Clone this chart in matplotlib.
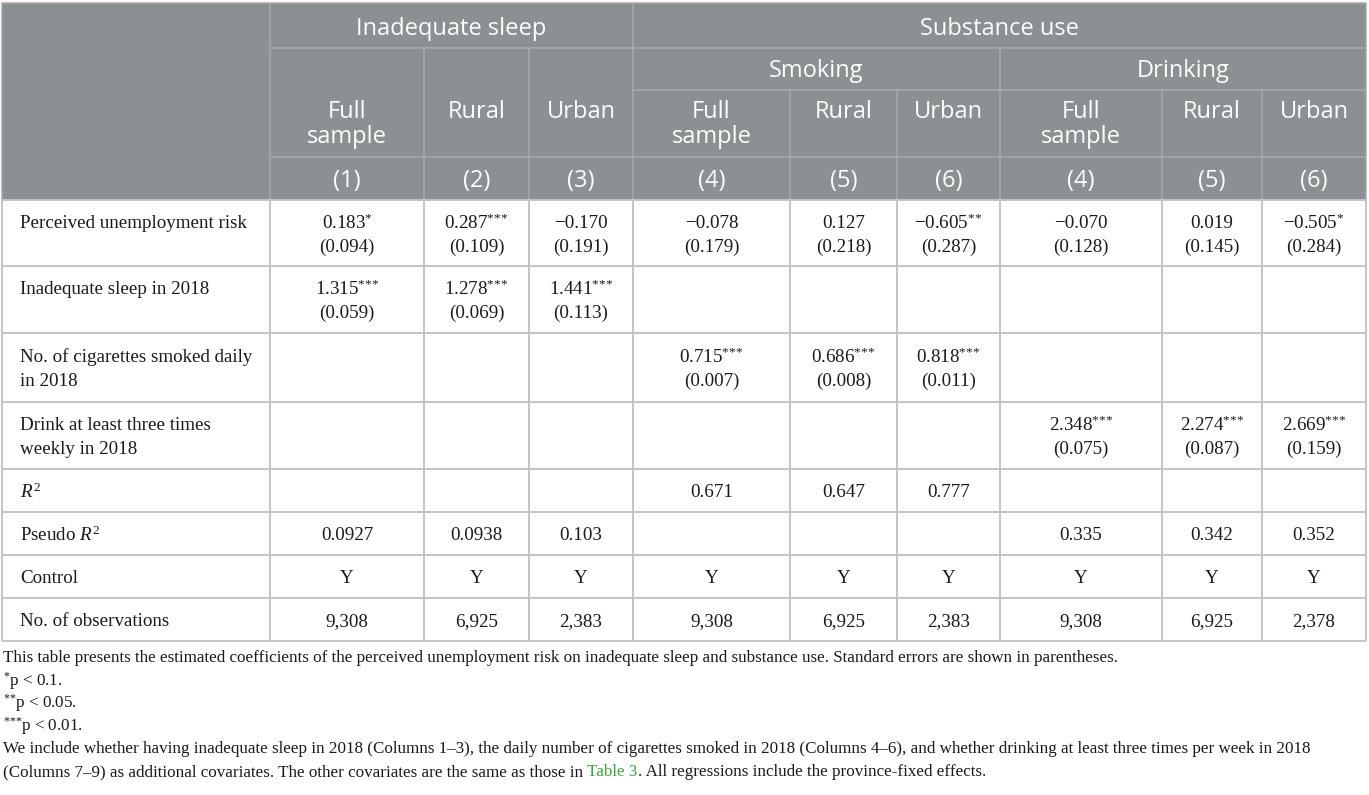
import matplotlib
matplotlib.use('Agg')
import matplotlib.pyplot as plt
from matplotlib.patches import Rectangle

plt.rcParams['mathtext.fontset'] = 'custom'
plt.rcParams['mathtext.rm'] = 'Liberation Serif'
plt.rcParams['mathtext.it'] = 'Liberation Serif:italic'

# ---- table content ----
group_labels = ['Inadequate sleep', 'Substance use']
sub_labels = ['Smoking', 'Drinking']
col_labels = ['Full\nsample', 'Rural', 'Urban'] * 3
col_numbers = ['(1)', '(2)', '(3)', '(4)', '(5)', '(6)', '(4)', '(5)', '(6)']

row_labels = ['Perceived unemployment risk',
              'Inadequate sleep in 2018',
              'No. of cigarettes smoked daily\nin 2018',
              'Drink at least three times\nweekly in 2018',
              '$\\mathit{R}^{2}$',
              'Pseudo $\\mathit{R}^{2}$',
              'Control',
              'No. of observations']

unemp_coef = ['0.183', '0.287', '\u22120.170', '\u22120.078', '0.127', '\u22120.605', '\u22120.070', '0.019', '\u22120.505']
unemp_stars = [1, 3, 0, 0, 0, 2, 0, 0, 1]
unemp_se = ['0.094', '0.109', '0.191', '0.179', '0.218', '0.287', '0.128', '0.145', '0.284']

sleep_coef = ['1.315', '1.278', '1.441']
sleep_se = ['0.059', '0.069', '0.113']
cig_coef = ['0.715', '0.686', '0.818']
cig_se = ['0.007', '0.008', '0.011']
drink_coef = ['2.348', '2.274', '2.669']
drink_se = ['0.075', '0.087', '0.159']

r2 = ['', '', '', '0.671', '0.647', '0.777', '', '', '']
pseudo_r2 = ['0.0927', '0.0938', '0.103', '', '', '', '0.335', '0.342', '0.352']
control = ['Y'] * 9
n_obs = ['9,308', '6,925', '2,383', '9,308', '6,925', '2,383', '9,308', '6,925', '2,378']

notes = ['This table presents the estimated coefficients of the perceived unemployment risk on inadequate sleep and substance use. Standard errors are shown in parentheses.',
         '$^{{*}}$p < 0.1.',
         '$^{{*}{*}}$p < 0.05.',
         '$^{{*}{*}{*}}$p < 0.01.',
         'We include whether having inadequate sleep in 2018 (Columns 1\u20133), the daily number of cigarettes smoked in 2018 (Columns 4\u20136), and whether drinking at least three times per week in 2018']
last_note = ['(Columns 7\u20139) as additional covariates. The other covariates are the same as those in ',
             'Table 3', '. All regressions include the province-fixed effects.']


def star(n):
    if n == 0:
        return ''
    return '$^{' + '{*}' * n + '}$'


def coef_row(coefs, stars, ses):
    return [(c + star(s), '(' + e + ')') for c, s, e in zip(coefs, stars, ses)]


empty3 = [None] * 3
cells = [
    coef_row(unemp_coef, unemp_stars, unemp_se),
    coef_row(sleep_coef, [3] * 3, sleep_se) + [None] * 6,
    empty3 + coef_row(cig_coef, [3] * 3, cig_se) + empty3,
    [None] * 6 + coef_row(drink_coef, [3] * 3, drink_se),
    r2, pseudo_r2, control, n_obs,
]

# ---- layout ----
xs = [2, 270, 424, 529, 633, 790, 897, 1000, 1162, 1262, 1366]
head_y = [3, 48, 90, 157, 200]
row_y = [200, 266, 333, 402, 469, 512, 555, 598, 641]

head_bg = '#8b9093'
head_line = '#a6abae'
grid = '#c4c4c4'
serif = 'Liberation Serif'
sans = 'Open Sans'

fig = plt.figure(figsize=(13.69, 7.95), dpi=100)
ax = fig.add_axes([0, 0, 1, 1])
ax.set_xlim(0, 1369)
ax.set_ylim(795, 0)
ax.axis('off')

ax.add_patch(Rectangle((xs[0], head_y[0]), xs[-1] - xs[0], head_y[-1] - head_y[0],
                       facecolor=head_bg, edgecolor='none'))


def hline(y, x0, x1, c, lw=1.1):
    ax.plot([x0, x1], [y, y], color=c, lw=lw, solid_capstyle='butt')


def vline(x, y0, y1, c, lw=1.1):
    ax.plot([x, x], [y0, y1], color=c, lw=lw, solid_capstyle='butt')


# header lines
hline(head_y[0], xs[0], xs[-1], head_line)
hline(48, xs[1], xs[-1], head_line)
hline(90, xs[4], xs[-1], head_line)
hline(157, xs[1], xs[-1], head_line)
vline(xs[0], 3, 200, head_line)
vline(xs[-1], 3, 200, head_line)
vline(xs[1], 3, 200, head_line)
vline(xs[4], 3, 200, head_line)
for x in [xs[2], xs[3], xs[7]]:
    vline(x, 48, 200, head_line)
for x in [xs[5], xs[6], xs[8], xs[9]]:
    vline(x, 90, 200, head_line)

# body lines
for y in row_y:
    hline(y, xs[0], xs[-1], grid, 1.4)
for x in xs:
    vline(x, row_y[0], row_y[-1], grid, 1.4)

# header text
hkw = dict(color='white', family=sans, fontsize=17, ha='center', va='center')
ax.text((xs[1] + xs[4]) / 2, 29, group_labels[0], **hkw)
ax.text((xs[4] + xs[-1]) / 2, 29, group_labels[1], **hkw)
ax.text((xs[4] + xs[7]) / 2, 71, sub_labels[0], **hkw)
ax.text((xs[7] + xs[-1]) / 2, 71, sub_labels[1], **hkw)
for i in range(9):
    cx = (xs[i + 1] + xs[i + 2]) / 2
    for k, part in enumerate(col_labels[i].split('\n')):
        ax.text(cx, 112 + 25 * k, part, **hkw)
    ax.text(cx, 181, col_numbers[i], **hkw)

# body text
bkw = dict(family=serif, fontsize=13.7, color='#1a1a1a')
for r, label in enumerate(row_labels):
    cy = (row_y[r] + row_y[r + 1]) / 2 + 2
    two_line = any(isinstance(v, tuple) for v in cells[r])
    lines = label.split('\n')
    y0 = cy - 12 if two_line else cy
    for k, part in enumerate(lines):
        ax.text(20, y0 + 24 * k, part, va='center', ha='left', **bkw)
    for i, v in enumerate(cells[r]):
        if not v:
            continue
        cx = (xs[i + 1] + xs[i + 2]) / 2
        if isinstance(v, tuple):
            ax.text(cx, cy - 12, v[0], va='center', ha='center', **bkw)
            ax.text(cx, cy + 12, v[1], va='center', ha='center', **bkw)
        else:
            ax.text(cx, cy, v, va='center', ha='center', **bkw)

# notes
nkw = dict(family=serif, fontsize=12.25, color='#1a1a1a', va='center', ha='left')
note_y = [658, 681, 703, 726, 749, 772]
for y, t in zip(note_y, notes):
    ax.text(3, y, t, **nkw)

renderer = fig.canvas.get_renderer()
x = 3
for part, col in zip(last_note, ['#1a1a1a', '#3aa935', '#1a1a1a']):
    kw = dict(nkw)
    kw['color'] = col
    t = ax.text(x, note_y[-1], part, **kw)
    bb = t.get_window_extent(renderer)
    x += bb.width

fig.savefig('out.png', dpi=100)
